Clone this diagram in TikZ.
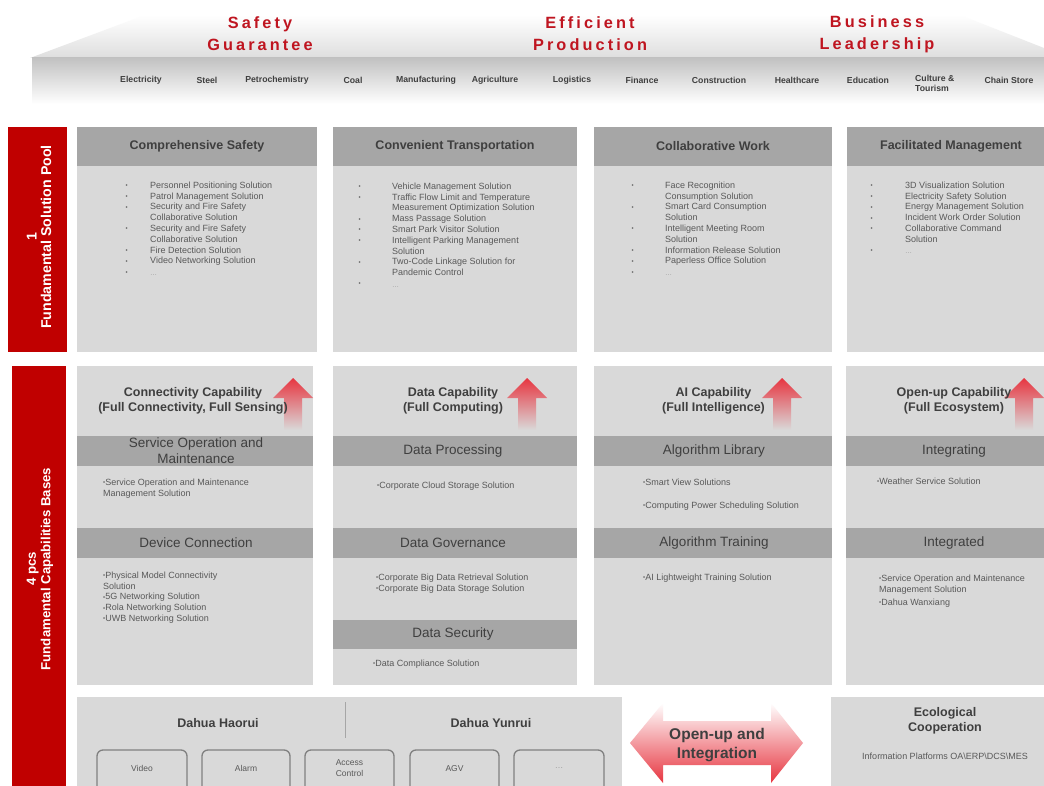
\documentclass[tikz,border=0pt]{standalone}
\usepackage{fontspec}
\setmainfont{Liberation Sans}
\definecolor{barred}{HTML}{C00000}
\definecolor{titlered}{HTML}{BF1520}
\definecolor{panelgrey}{HTML}{D9D9D9}
\definecolor{bandgrey}{HTML}{A6A6A6}
\definecolor{ink}{HTML}{3F3F3F}
\definecolor{softink}{HTML}{595959}
\definecolor{faintink}{HTML}{9A9A9A}
\definecolor{arrowred}{HTML}{E73540}
\definecolor{framegrey}{HTML}{808080}
\newcommand\sbul{{\fontsize{6}{6}\selectfont\raisebox{0.6pt}{\textbullet}}}
\newcommand\poollist[2]{\begin{tabular}{@{}p{#1}@{}p{170pt}@{}}#2\end{tabular}}
\newcommand\more{{\color{faintink}\fontsize{7}{7}\selectfont\dots}}

\tikzset{
  panel/.style={fill=panelgrey},
  band/.style={fill=bandgrey},
  redbar/.style={fill=barred},
  bigtitle/.style={text=titlered, align=center, inner sep=0pt,
    font={\fontsize{16.3}{22}\selectfont\bfseries\addfontfeatures{LetterSpace=19}}},
  industry/.style={text=ink, inner sep=0pt, font=\fontsize{8.7}{10}\selectfont\bfseries},
  bartext/.style={text=white, align=center, inner sep=0pt, rotate=90,
    font=\fontsize{13.5}{14.5}\selectfont\bfseries},
  boxhead/.style={text=ink, align=center, inner sep=0pt, font=\fontsize{12.5}{15}\selectfont\bfseries},
  bandlabel/.style={text=ink, align=center, inner sep=0pt, font=\fontsize{13.5}{16}\selectfont},
  poolitem/.style={text=softink, inner sep=0pt, anchor=north west, font=\fontsize{9}{10.8}\selectfont},
  item/.style={text=softink, inner sep=0pt, align=left, font=\fontsize{9}{10.8}\selectfont},
  chip/.style={draw=framegrey, line width=1.3pt, rounded corners=6pt, fill=panelgrey},
  chiplabel/.style={text=softink, align=center, inner sep=0pt, font=\fontsize{8.5}{10.5}\selectfont},
  divider/.style={draw=black!35, line width=0.8pt},
  riser/.pic={
    \shade[top color=arrowred, bottom color=panelgrey]
      (0,0) -- (20,20) -- (9,20) -- (9,52) -- (-9,52) -- (-9,20) -- (-20,20) -- cycle;
  }
}

\begin{document}
\begin{tikzpicture}[x=1pt,y=-1pt]
\clip (0,0) rectangle (1044,786);
\fill[white] (0,0) rectangle (1044,786);

% roof over the industries
\shade[top color=white, bottom color=black!13]
  (30,58) -- (145,15) -- (960,15) -- (1044,48) -- (1044,58) -- cycle;
\shade[top color=black!24, bottom color=white] (32,58) rectangle (1044,104);

\node[bigtitle] (safety) at (260,34) {Safety\\Guarantee};
\node[bigtitle] (efficient) at (590,34) {Efficient\\Production};
\node[bigtitle] (business) at (877,34) {Business\\Leadership};

\foreach \x/\t [count=\i] in {141/Electricity, 207/Steel, 277/Petrochemistry, 353/Coal,
    426/Manufacturing, 495/Agriculture, 572/Logistics, 642/Finance, 719/Construction,
    797/Healthcare, 868/Education, 1009/Chain Store}
  \node[industry] (ind\i) at (\x,80) {\t};
\node[industry, align=left, anchor=north west] (indCulture) at (915,75) {Culture \&\\Tourism};

% side labels
\fill[redbar] (8,127) rectangle (67,352);
\node[bartext, font=\fontsize{14.2}{14.5}\selectfont\bfseries] (poolTag) at (39,237) {1\\Fundamental Solution Pool};
\fill[redbar] (12,366) rectangle (66,790);
\node[bartext, font=\fontsize{13.2}{14.5}\selectfont\bfseries] (baseTag) at (40,569) {4 pcs\\Fundamental Capabilities Bases};

% solution pool
\foreach \a/\b in {77/317, 333/577, 594/832, 847/1060} {
  \fill[panel] (\a,127) rectangle (\b,352);
  \fill[band] (\a,127) rectangle (\b,166);
}
\node[boxhead] (poolA) at (197,146) {Comprehensive Safety};
\node[boxhead] (poolB) at (455,146) {Convenient Transportation};
\node[boxhead] (poolC) at (713,146) {Collaborative Work};
\node[boxhead] (poolD) at (951,146) {Facilitated Management};

\node[poolitem] (listA) at (125.5,180.6) {\poollist{24.5pt}{
  \sbul & Personnel Positioning Solution\\
  \sbul & Patrol Management Solution\\
  \sbul & Security and Fire Safety\newline Collaborative Solution\\
  \sbul & Security and Fire Safety\newline Collaborative Solution\\
  \sbul & Fire Detection Solution\\
  \sbul & Video Networking Solution\\
  \sbul & \more\\}};
\node[poolitem] (listB) at (358.5,181.6) {\poollist{33.5pt}{
  \sbul & Vehicle Management Solution\\
  \sbul & Traffic Flow Limit and Temperature\newline Measurement Optimization Solution\\
  \sbul & Mass Passage Solution\\
  \sbul & Smart Park Visitor Solution\\
  \sbul & Intelligent Parking Management\newline Solution\\
  \sbul & Two-Code Linkage Solution for\newline Pandemic Control\\
  \sbul & \more\\}};
\node[poolitem] (listC) at (631.5,180.6) {\poollist{33.5pt}{
  \sbul & Face Recognition\newline Consumption Solution\\
  \sbul & Smart Card Consumption\newline Solution\\
  \sbul & Intelligent Meeting Room\newline Solution\\
  \sbul & Information Release Solution\\
  \sbul & Paperless Office Solution\\
  \sbul & \more\\}};
\node[poolitem] (listD) at (870.5,180.6) {\poollist{34.5pt}{
  \sbul & 3D Visualization Solution\\
  \sbul & Electricity Safety Solution\\
  \sbul & Energy Management Solution\\
  \sbul & Incident Work Order Solution\\
  \sbul & Collaborative Command\newline Solution\\
  \sbul & \more\\}};

% capability bases
\foreach \a/\b in {77/313, 333/577, 594/832, 846/1060} {
  \fill[panel] (\a,366) rectangle (\b,685);
  \fill[band] (\a,436) rectangle (\b,466);
  \fill[band] (\a,528) rectangle (\b,558);
}
\fill[band] (333,620) rectangle (577,649);

\pic at (293,378) {riser};
\pic at (527,378) {riser};
\pic at (782,378) {riser};
\pic at (1024,378) {riser};

\node[boxhead] (capA) at (193,400.5) {Connectivity Capability\\(Full Connectivity, Full Sensing)};
\node[boxhead] (capB) at (453,400.5) {Data Capability\\(Full Computing)};
\node[boxhead] (capC) at (713.5,400.5) {AI Capability\\(Full Intelligence)};
\node[boxhead] (capD) at (954,400.5) {Open-up Capability\\(Full Ecosystem)};

\node[bandlabel] (bandA1) at (196,451) {Service Operation and\\Maintenance};
\node[bandlabel] (bandA2) at (196,543) {Device Connection};
\node[bandlabel] (bandB1) at (453,451) {Data Processing};
\node[bandlabel] (bandB2) at (453,543) {Data Governance};
\node[bandlabel] (bandB3) at (453,634.5) {Data Security};
\node[bandlabel] (bandC1) at (714,451) {Algorithm Library};
\node[bandlabel] (bandC2) at (714,543) {Algorithm Training};
\node[bandlabel] (bandD1) at (954,451) {Integrating};
\node[bandlabel] (bandD2) at (954,543) {Integrated};

\node[item, anchor=north west] (itA1) at (103,478.5) {\sbul Service Operation and Maintenance\\Management Solution};
\node[item, anchor=north west] (itA2) at (103,571.5) {\sbul Physical Model Connectivity\\Solution\\\sbul 5G Networking Solution\\\sbul Rola Networking Solution\\\sbul UWB Networking Solution};
\node[item, anchor=west] (itB1) at (377,486) {\sbul Corporate Cloud Storage Solution};
\node[item, anchor=north west] (itB2) at (376,573.5) {\sbul Corporate Big Data Retrieval Solution\\\sbul Corporate Big Data Storage Solution};
\node[item, anchor=west] (itB3) at (373,664) {\sbul Data Compliance Solution};
\node[item, anchor=west] (itC1) at (643,482) {\sbul Smart View Solutions};
\node[item, anchor=west] (itC2) at (643,506) {\sbul Computing Power Scheduling Solution};
\node[item, anchor=west] (itC3) at (643,578) {\sbul AI Lightweight Training Solution};
\node[item, anchor=west] (itD1) at (877,481) {\sbul Weather Service Solution};
\node[item, anchor=north west] (itD2) at (879,574.5) {\sbul Service Operation and Maintenance\\Management Solution};
\node[item, anchor=west] (itD3) at (879,603) {\sbul Dahua Wanxiang};

% products and ecosystem
\fill[panel] (77,697) rectangle (622,790);
\draw[divider] (345,702) -- (345,738);
\node[boxhead] (haorui) at (218,723) {Dahua Haorui};
\node[boxhead] (yunrui) at (491,723) {Dahua Yunrui};
\foreach \a/\b in {97/187, 202/290, 305/394, 410/499, 514/604}
  \draw[chip] (\a,750) rectangle (\b,800);
\node[chiplabel] (chipVideo) at (142,768.5) {Video};
\node[chiplabel] (chipAlarm) at (246,768.5) {Alarm};
\node[chiplabel] (chipAccess) at (349.5,768) {Access\\Control};
\node[chiplabel] (chipAGV) at (454.5,768.5) {AGV};
\node[chiplabel, text=faintink] (chipMore) at (559,768.5) {\dots};

\shade[top color=white, middle color=arrowred!30, bottom color=arrowred]
  (630,743) -- (663,703) -- (663,721) -- (771,721) -- (771,703) -- (803,743)
  -- (771,783) -- (771,765) -- (663,765) -- (663,783) -- cycle;
\node[text=ink, align=center, inner sep=0pt, font=\fontsize{15.5}{19}\selectfont\bfseries]
  (openup) at (717,745) {Open-up and\\Integration};

\fill[panel] (831,697) rectangle (1060,790);
\node[boxhead] (ecoTitle) at (945,721) {Ecological\\Cooperation};
\node[item, anchor=center] (ecoText) at (945,756) {Information Platforms OA\textbackslash ERP\textbackslash DCS\textbackslash MES};
\end{tikzpicture}
\end{document}
